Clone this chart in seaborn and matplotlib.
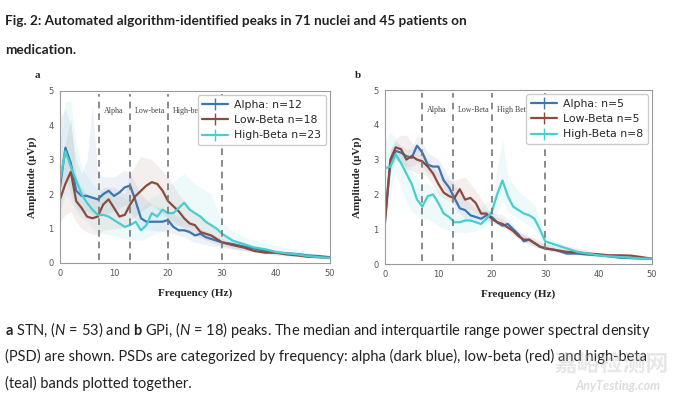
import matplotlib
matplotlib.use("Agg")
import matplotlib.pyplot as plt
from matplotlib.lines import Line2D
import seaborn as sns
import numpy as np

# ── Data ─────────────────────────────────────────────────────────────────────
FREQ = list(range(0, 31)) + [32, 34, 36, 38, 40, 42, 44, 46, 48, 50]
BAND_FREQ = [0, 1, 2, 3, 4, 5, 6, 7, 8, 10, 12, 13, 15, 17, 20, 22, 23, 25,
             28, 30, 32, 35, 40, 45, 50]

# panel a (STN) medians
A_ALPHA = [2.2, 3.35, 2.9, 2.1, 1.95, 1.95, 1.9, 1.85, 2.0, 2.1, 1.95, 2.05,
           2.2, 2.25, 1.8, 1.3, 1.2, 1.2, 1.2, 1.2, 1.25, 1.05, 0.95, 0.95,
           0.9, 0.8, 0.85, 0.75, 0.7, 0.65, 0.6,
           0.55, 0.48, 0.42, 0.35, 0.3, 0.28, 0.26, 0.22, 0.2, 0.17]
A_LOW = [1.85, 2.3, 2.65, 1.8, 1.6, 1.35, 1.3, 1.35, 1.7, 1.85, 1.6, 1.35,
         1.4, 1.7, 1.95, 2.1, 2.25, 2.35, 2.3, 2.1, 1.8, 1.65, 1.5, 1.3,
         1.15, 1.1, 0.9, 0.85, 0.8, 0.7, 0.6,
         0.52, 0.45, 0.35, 0.3, 0.3, 0.25, 0.22, 0.18, 0.17, 0.15]
A_HIGH = [2.4, 3.25, 2.8, 2.4, 2.0, 1.75, 1.55, 1.4, 1.4, 1.35, 1.25, 1.15,
          1.05, 1.1, 1.2, 0.95, 1.1, 1.45, 1.35, 1.55, 1.45, 1.45, 1.6, 1.75,
          1.55, 1.45, 1.35, 1.2, 1.1, 1.0, 0.85,
          0.65, 0.55, 0.45, 0.4, 0.32, 0.28, 0.25, 0.2, 0.17, 0.15]

# panel a interquartile ranges
A_ALPHA_UP = [4.2, 4.5, 4.0, 3.0, 2.6, 3.0, 4.6, 2.6, 2.5, 2.5, 2.7, 2.6, 2.0,
              1.7, 1.5, 1.35, 1.3, 1.1, 0.85, 0.7, 0.6, 0.5, 0.35, 0.27, 0.2]
A_ALPHA_LO = [1.5, 2.5, 2.0, 1.6, 1.5, 1.5, 1.4, 1.3, 1.4, 1.5, 1.7, 1.5, 1.0,
              0.95, 0.9, 0.8, 0.75, 0.6, 0.5, 0.45, 0.4, 0.35, 0.25, 0.18, 0.12]
A_LOW_UP = [2.5, 3.5, 4.2, 2.5, 2.2, 2.0, 1.9, 1.9, 2.2, 2.2, 2.0, 2.6, 3.1,
            3.0, 2.5, 2.0, 1.8, 1.5, 1.1, 0.8, 0.65, 0.5, 0.38, 0.27, 0.2]
A_LOW_LO = [1.2, 1.4, 1.5, 1.2, 1.0, 0.9, 0.85, 0.8, 0.95, 1.0, 1.0, 1.2, 1.5,
            1.7, 1.3, 1.1, 1.0, 0.8, 0.6, 0.5, 0.42, 0.33, 0.22, 0.17, 0.12]
A_HIGH_UP = [3.5, 4.7, 4.7, 3.5, 2.8, 2.5, 2.3, 2.2, 2.1, 2.0, 1.9, 1.8, 1.6,
             1.9, 2.2, 2.5, 2.6, 2.3, 2.0, 1.2, 0.9, 0.7, 0.5, 0.35, 0.2]
A_HIGH_LO = [1.5, 2.0, 1.8, 1.5, 1.3, 1.2, 1.0, 0.9, 0.85, 0.8, 0.7, 0.7, 0.65,
             0.8, 1.0, 1.1, 1.1, 1.0, 0.7, 0.55, 0.45, 0.35, 0.25, 0.17, 0.1]

# panel b (GPi) medians
B_ALPHA = [1.3, 2.9, 3.25, 3.2, 3.1, 3.05, 3.4, 3.2, 2.85, 2.8, 2.8, 2.4,
           2.2, 1.9, 1.6, 1.55, 1.4, 1.35, 1.3, 1.4, 1.35, 1.2, 1.1, 1.15,
           1.0, 0.85, 0.65, 0.7, 0.6, 0.5, 0.45,
           0.4, 0.3, 0.3, 0.27, 0.25, 0.22, 0.18, 0.17, 0.16, 0.15]
B_LOW = [1.2, 3.0, 3.35, 3.3, 3.0, 3.1, 3.0, 2.95, 2.8, 2.6, 2.3, 2.05,
         1.95, 1.9, 2.15, 1.85, 1.9, 1.75, 1.45, 1.45, 1.3, 1.2, 1.15, 1.05,
         0.95, 0.8, 0.7, 0.7, 0.6, 0.5, 0.45,
         0.4, 0.35, 0.33, 0.3, 0.28, 0.25, 0.25, 0.24, 0.2, 0.15]
B_HIGH = [2.75, 2.8, 3.15, 2.9, 2.6, 2.3, 1.85, 1.65, 1.95, 2.0, 1.75, 1.45,
          1.35, 1.2, 1.2, 1.25, 1.25, 1.2, 1.15, 1.3, 1.5, 2.0, 2.4, 1.95,
          1.65, 1.55, 1.45, 1.4, 1.3, 1.0, 0.65,
          0.55, 0.45, 0.35, 0.3, 0.25, 0.22, 0.2, 0.18, 0.16, 0.15]

# panel b interquartile ranges
B_ALPHA_UP = [1.5, 3.3, 3.5, 3.4, 3.3, 3.3, 3.7, 3.5, 3.2, 3.0, 2.5, 2.3, 1.9,
              1.6, 1.5, 1.4, 1.3, 0.95, 0.7, 0.55, 0.45, 0.38, 0.3, 0.22, 0.17]
B_ALPHA_LO = [1.0, 2.6, 3.0, 2.9, 2.8, 2.8, 2.9, 2.8, 2.6, 2.5, 1.9, 1.6, 1.3,
              1.2, 1.25, 1.05, 1.0, 0.75, 0.5, 0.4, 0.33, 0.27, 0.22, 0.15, 0.12]
B_LOW_UP = [1.5, 3.3, 3.6, 3.7, 3.7, 3.5, 3.3, 3.2, 3.0, 2.6, 2.4, 2.4, 2.5,
            2.1, 1.4, 1.3, 1.2, 0.9, 0.75, 0.6, 0.5, 0.5, 0.32, 0.27, 0.18]
B_LOW_LO = [1.0, 2.7, 3.0, 2.9, 2.7, 2.7, 2.6, 2.6, 2.5, 2.0, 1.8, 1.7, 1.6,
            1.5, 1.2, 1.05, 0.95, 0.7, 0.5, 0.4, 0.35, 0.3, 0.25, 0.2, 0.12]
B_HIGH_UP = [3.5, 3.8, 3.6, 3.3, 3.0, 2.7, 2.5, 2.3, 2.3, 2.1, 1.8, 1.6, 1.55,
             1.5, 1.9, 3.6, 2.5, 2.1, 1.7, 0.85, 0.65, 0.45, 0.3, 0.22, 0.17]
B_HIGH_LO = [1.1, 2.0, 2.6, 2.2, 1.8, 1.5, 1.4, 1.3, 1.3, 1.1, 0.95, 0.9, 0.9,
             0.95, 1.2, 1.8, 1.5, 1.3, 1.0, 0.5, 0.4, 0.3, 0.2, 0.15, 0.1]

A_LABELS = ['Alpha: n=12', 'Low-Beta n=18', 'High-Beta n=23']
B_LABELS = ['Alpha: n=5', 'Low-Beta n=5', 'High-Beta n=8']
A_BANDS = ['Alpha', 'Low-beta', 'High-beta']
B_BANDS = ['Alpha', 'Low-Beta', 'High Beta']
A_CUTS = [7.3, 13, 20, 30]
B_CUTS = [7, 12.8, 20, 30]

# ── Style ────────────────────────────────────────────────────────────────────
COLORS = ['#3a76b3', '#8a4b3e', '#47cece']
TICK_COLOR = '#555555'
SERIF = 'Liberation Serif'
SANS = 'Lato'

sns.set_style('white')
plt.rcParams.update({
    'font.family': ['DejaVu Sans'],
    'mathtext.fontset': 'custom',
    'mathtext.rm': SANS,
    'mathtext.bf': SANS + ':bold',
    'mathtext.it': SANS + ':italic',
})


def draw_panel(ax, medians, bands, labels, band_names, cuts):
    for (lo, up), c in zip(bands, COLORS):
        ax.fill_between(BAND_FREQ, lo, up, color=c, alpha=0.09, lw=0)
    for med, c in zip(medians, COLORS):
        sns.lineplot(x=FREQ, y=med, ax=ax, color=c, lw=1.6)

    for x in cuts:
        ax.axvline(x, ymin=0.02, ymax=0.98, color='#777777', lw=1.2,
                   dashes=(4, 3))
    for name, x0 in zip(band_names, cuts[:3]):
        ax.text(x0 + 0.9, 4.43, name, fontsize=5.8, family=SERIF,
                color='#444444', va='center')

    ax.set_xlim(0, 50)
    ax.set_ylim(0, 5)
    ax.set_xticks([0, 10, 20, 30, 40, 50])
    ax.set_yticks([0, 1, 2, 3, 4, 5])
    ax.tick_params(axis='both', labelsize=6, colors=TICK_COLOR, length=2.5,
                   width=0.6, pad=2)
    for sp in ax.spines.values():
        sp.set_color('#9a9a9a')
        sp.set_linewidth(0.8)
    ax.set_xlabel('Frequency (Hz)', family=SERIF, fontweight='bold',
                  fontsize=8, labelpad=7)
    ax.set_ylabel('Amplitude (\u03bcVp)', family=SERIF, fontweight='bold',
                  fontsize=8, labelpad=8)

    handles = [Line2D([], [], color=c, lw=1.6, marker='|', markersize=8,
                      mew=1.0) for c in COLORS]
    ax.legend(handles, labels, loc='upper right', fontsize=7.8,
              frameon=True, edgecolor='#cccccc', framealpha=1,
              borderaxespad=0.4, handlelength=2.4, labelspacing=0.5,
              borderpad=0.4, handletextpad=0.6)


fig = plt.figure(figsize=(6.8, 3.94), dpi=100)
ax_a = fig.add_axes([60 / 680, 1 - 263 / 394, 270 / 680, 172 / 394])
ax_b = fig.add_axes([385 / 680, 1 - 264 / 394, 267 / 680, 174 / 394])

draw_panel(ax_a, [A_ALPHA, A_LOW, A_HIGH],
           [(A_ALPHA_LO, A_ALPHA_UP), (A_LOW_LO, A_LOW_UP),
            (A_HIGH_LO, A_HIGH_UP)], A_LABELS, A_BANDS, A_CUTS)
draw_panel(ax_b, [B_ALPHA, B_LOW, B_HIGH],
           [(B_ALPHA_LO, B_ALPHA_UP), (B_LOW_LO, B_LOW_UP),
            (B_HIGH_LO, B_HIGH_UP)], B_LABELS, B_BANDS, B_CUTS)

fig.text(35 / 680, 1 - 75 / 394, 'a', family=SERIF, fontweight='bold',
         fontsize=8, va='center')
fig.text(355 / 680, 1 - 76 / 394, 'b', family=SERIF, fontweight='bold',
         fontsize=8, va='center')

# ── Title & caption ─────────────────────────────────────────────────────────
TITLE = ['Fig. 2: Automated algorithm-identified peaks in 71 nuclei and '
         '45 patients on', 'medication.']
CAPTION = [r'$\mathbf{a}$ STN, ($\mathit{N}$ = 53) and $\mathbf{b}$ GPi, '
           r'($\mathit{N}$ = 18) peaks. The median and interquartile range '
           r'power spectral density',
           '(PSD) are shown. PSDs are categorized by frequency: alpha (dark '
           'blue), low-beta (red) and high-beta',
           '(teal) bands plotted together.']

for line, y in zip(TITLE, [21, 50]):
    fig.text(5 / 680, 1 - y / 394, line, family=SANS, fontweight='bold',
             fontsize=9.8, color='#222222', va='center')
for line, y in zip(CAPTION, [330, 356, 383]):
    fig.text(5 / 680, 1 - y / 394, line, family=SANS, fontsize=10.55,
             color='#222222', va='center')

# faint site watermark (sits over the caption, as in the source page)
fig.text(612 / 680, 1 - 364 / 394, '嘉峪检测网',
         family=['Noto Sans CJK SC', 'DejaVu Sans'], fontsize=16.5,
         color='#bbbbbb', alpha=0.35, ha='center', va='center',
         fontweight='bold')
fig.text(618 / 680, 1 - 386 / 394, 'AnyTesting.com', family=SANS,
         fontsize=9, style='italic', fontweight='bold', color='#bbbbbb',
         alpha=0.5, ha='center', va='center')

fig.savefig('out.png', dpi=100)
